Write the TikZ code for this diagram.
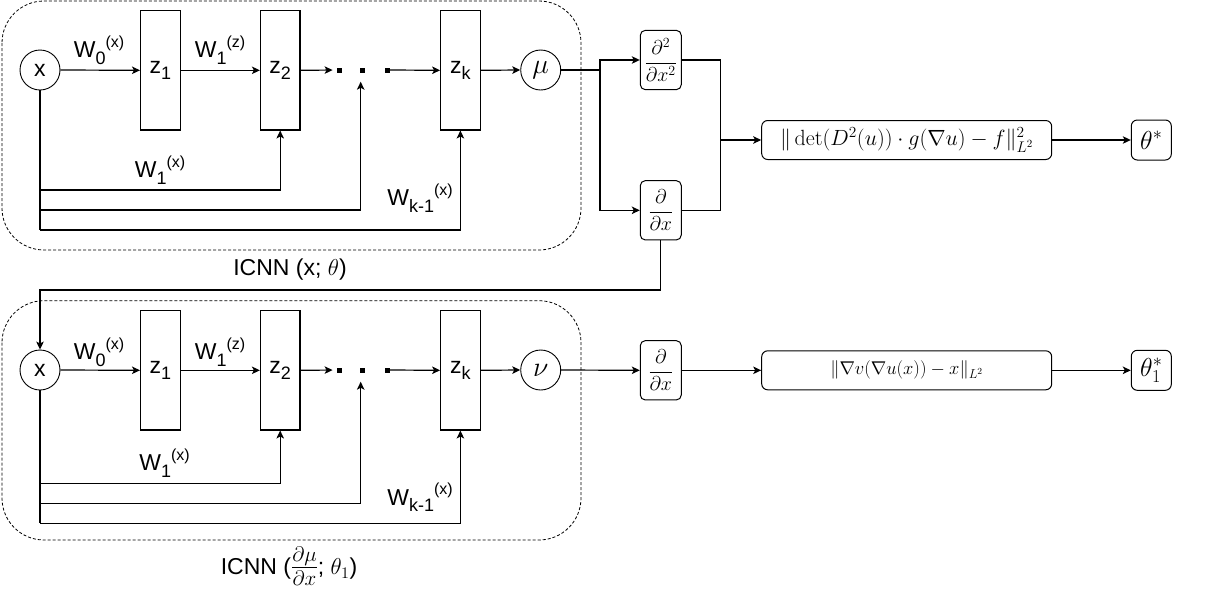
\RequirePackage{fix-cm}
\documentclass[tikz,border=0pt]{standalone}
\usepackage{amsmath}
\usepackage{fontspec}
\newfontfamily\arialfam{Liberation Sans}
\usetikzlibrary{arrows.meta}
\newcommand{\lowsub}[1]{\raisebox{-0.28em}{\fontsize{18}{18}\selectfont #1}}
\newcommand{\highsup}[1]{\raisebox{0.45em}{\fontsize{16}{16}\selectfont #1}}
\begin{document}
\begin{tikzpicture}[x=1pt,y=-1pt,
  ln/.style={line width=1.2pt},
  arr/.style={line width=1.2pt,-{Stealth[length=8pt,width=7.5pt,inset=2pt]}},
  sans/.style={font=\arialfam\fontsize{23}{27}\selectfont},
  circ/.style={draw,circle,minimum size=40pt,inner sep=0pt,line width=0.9pt},
  zbox/.style={draw,rectangle,minimum width=39.5pt,minimum height=119.3pt,inner sep=0pt,line width=1.1pt,font=\arialfam\fontsize{23}{27}\selectfont},
  rbox/.style={draw,rectangle,rounded corners=5pt,minimum height=59.3pt,minimum width=41pt,inner sep=0pt,line width=1pt,font=\fontsize{20}{24}\selectfont},
  lossbox/.style={draw,rectangle,rounded corners=6pt,minimum width=290pt,minimum height=39pt,inner sep=0pt,line width=1pt},
  thbox/.style={draw,rectangle,rounded corners=6pt,minimum width=40pt,minimum height=40pt,inner sep=0pt,line width=1pt,font=\fontsize{26}{30}\selectfont},
  sq/.style={fill,rectangle,minimum size=5pt,inner sep=0pt},
  netframe/.style={draw,dash pattern=on 3pt off 2pt,rounded corners=42pt,line width=0.8pt}
]
\useasboundingbox (0,0) rectangle (1213,590);

% frames
\draw[netframe] (2,1) rectangle (581,250);
\draw[netframe] (2,300.7) rectangle (581,540);

% ---------- top network ----------
\node[circ,sans] (xa) at (40,70) {x};
\node[zbox] (z1a) at (160.3,70.3) {z\lowsub{1}};
\node[zbox] (z2a) at (280.2,70.3) {z\lowsub{2}};
\node[sq] (d1a) at (339.3,70) {};
\node[sq] (d2a) at (362.7,70) {};
\node[sq] (d3a) at (387.3,70) {};
\node[zbox] (zka) at (460.4,70.3) {z\lowsub{k}};
\node[circ,font=\fontsize{28}{32}\selectfont] (mu) at (540.7,70) {$\mu$};

\node[sans] (w0a) at (99,50) {W\lowsub{0}\highsup{(x)}};
\node[sans] (w1za) at (220,50) {W\lowsub{1}\highsup{(z)}};
\node[sans] (w1xa) at (160,170) {W\lowsub{1}\highsup{(x)}};
\node[sans] (wka) at (420,198) {W\lowsub{k-1}\highsup{(x)}};
\node[sans] (laba) at (290,270) {ICNN (x; $\theta$)};

\draw[arr] (xa.east) -- (z1a.west);
\draw[arr] (z1a.east) -- (z2a.west);
\draw[arr,shorten >=4pt] (z2a.east) -- (d1a.west);
\draw[arr] (d3a.east) -- (zka.west);
\draw[arr] (zka.east) -- (mu.west);

\coordinate (ya1) at (40,190);
\coordinate (ya2) at (40,210);
\coordinate (ya3) at (40,230);
\coordinate (dta) at (360.7,81.7);
\draw[ln] (xa.south) -- (ya3);
\draw[arr] (ya1) -| (z2a.south);
\draw[arr] (ya2) -| (dta);
\draw[arr] (ya3) -| (zka.south);

% derivatives and loss (top)
\node[rbox] (ddxx) at (660.8,60) {$\dfrac{\partial^2}{\partial x^2}$};
\node[rbox] (ddxa) at (660.8,210.3) {$\dfrac{\partial}{\partial x}$};
\node[lossbox,font=\fontsize{22}{26}\selectfont] (loss1) at (906.7,140) {$\|\det(D^2(u))\cdot g(\nabla u)-f\|^2_{L^2}$};
\node[thbox] (th) at (1151.3,140) {$\theta^*$};

\coordinate (sp1) at (600,70);
\draw[ln] (mu.east) -- (sp1);
\draw[arr] (sp1) |- (ddxx.west);
\draw[arr] (sp1) |- (ddxa.west);
\coordinate (jn1) at (720.7,140);
\draw[ln] (ddxx.east) -| (jn1);
\draw[ln] (ddxa.east) -| (jn1);
\draw[arr] (jn1) -- (loss1.west);
\draw[arr] (loss1.east) -- (th.west);

% ---------- bottom network ----------
\node[circ,sans] (xb) at (40,370) {x};
\node[zbox] (z1b) at (160.3,370.3) {z\lowsub{1}};
\node[zbox] (z2b) at (280.2,370.3) {z\lowsub{2}};
\node[sq] (d1b) at (339.3,370) {};
\node[sq] (d2b) at (362.7,370) {};
\node[sq] (d3b) at (387.3,370) {};
\node[zbox] (zkb) at (460.4,370.3) {z\lowsub{k}};
\node[circ,font=\fontsize{28}{32}\selectfont] (nu) at (540.7,370) {$\nu$};

\node[sans] (w0b) at (99,352) {W\lowsub{0}\highsup{(x)}};
\node[sans] (w1zb) at (220,352) {W\lowsub{1}\highsup{(z)}};
\node[sans] (w1xb) at (164.6,463) {W\lowsub{1}\highsup{(x)}};
\node[sans] (wkb) at (420,497.5) {W\lowsub{k-1}\highsup{(x)}};
\node[sans] (labb) at (289,566) {ICNN ({\fontsize{30}{30}\selectfont$\frac{\partial\mu}{\partial x}$}; $\theta_1$)};

\coordinate (lk) at (40,290);
\draw[arr] (ddxa.south) |- (lk) -- (xb.north);

\draw[arr] (xb.east) -- (z1b.west);
\draw[arr] (z1b.east) -- (z2b.west);
\draw[arr,shorten >=4pt] (z2b.east) -- (d1b.west);
\draw[arr] (d3b.east) -- (zkb.west);
\draw[arr] (zkb.east) -- (nu.west);

\coordinate (yb1) at (40,483.3);
\coordinate (yb2) at (40,503.3);
\coordinate (yb3) at (40,523.3);
\coordinate (dtb) at (360.7,381.7);
\draw[ln] (xb.south) -- (yb3);
\draw[arr] (yb1) -| (z2b.south);
\draw[arr] (yb2) -| (dtb);
\draw[arr] (yb3) -| (zkb.south);

\node[rbox] (ddxb) at (660.8,370.3) {$\dfrac{\partial}{\partial x}$};
\node[lossbox,font=\fontsize{18.5}{22}\selectfont] (loss2) at (906.7,370.3) {$\|\nabla v(\nabla u(x))-x\|_{L^2}$};
\node[thbox] (th1) at (1151.3,370.3) {$\theta^*_1$};

\draw[arr] (nu.east) -- (ddxb.west);
\draw[arr] (ddxb.east) -- (loss2.west);
\draw[arr] (loss2.east) -- (th1.west);
\end{tikzpicture}
\end{document}
